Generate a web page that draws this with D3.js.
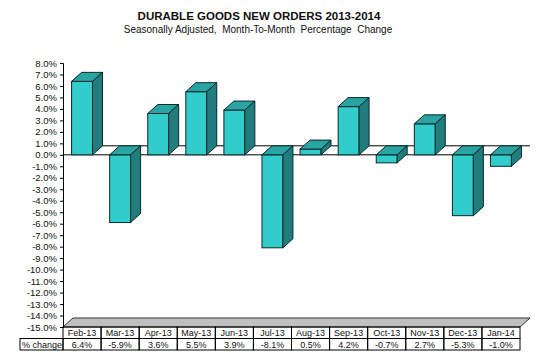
<!DOCTYPE html>
<html>
<head>
<meta charset="utf-8">
<script src="https://cdn.jsdelivr.net/npm/d3@7/dist/d3.min.js"></script>
<style>
  body { margin: 0; background: #fff; }
  text { font-family: Arial, "Liberation Sans", sans-serif; fill: #111; }
</style>
</head>
<body>
<div id="chart"></div>
<script>
// data
var months = ['Feb-13', 'Mar-13', 'Apr-13', 'May-13', 'Jun-13', 'Jul-13',
              'Aug-13', 'Sep-13', 'Oct-13', 'Nov-13', 'Dec-13', 'Jan-14'];
var changes = [6.4, -5.9, 3.6, 5.5, 3.9, -8.1, 0.5, 4.2, -0.7, 2.7, -5.3, -1.0];
var yTicks = d3.range(-15, 9, 1);

var width = 546, height = 363;
var plotLeft = 63, plotRight = 520, plotTop = 63, plotBottom = 327;
var dx = 10, dy = -9;   // 3d depth offset

var svg = d3.select('#chart').append('svg')
    .attr('width', width)
    .attr('height', height);

var x = d3.scaleBand()
    .domain(months)
    .range([plotLeft, plotRight])
    .paddingInner(0.45)
    .paddingOuter(0.225);

var col = d3.scaleBand()
    .domain(months)
    .range([plotLeft, plotRight]);

var y = d3.scaleLinear()
    .domain([-15, 8])
    .range([plotBottom, plotTop]);

// titles
svg.append('text')
    .attr('x', 259).attr('y', 20)
    .attr('text-anchor', 'middle')
    .style('font-weight', 'bold')
    .style('font-size', '11.5px')
    .text('DURABLE GOODS NEW ORDERS 2013-2014');

svg.append('text')
    .attr('x', 258).attr('y', 33)
    .attr('text-anchor', 'middle')
    .style('font-size', '10px')
    .style('white-space', 'pre')
    .text('Seasonally Adjusted,  Month-To-Month  Percentage  Change');

// floor
var fl = y(-15);
svg.append('polygon')
    .attr('points', [[plotLeft, fl], [plotRight, fl], [plotRight + dx, fl + dy], [plotLeft + dx, fl + dy]].join(' '))
    .attr('fill', '#c0c0c0')
    .attr('stroke', '#333')
    .attr('stroke-width', 1);

// zero plane
var y0 = y(0);
svg.append('polygon')
    .attr('points', [[plotLeft, y0], [plotRight, y0], [plotRight + dx, y0 + dy], [plotLeft + dx, y0 + dy]].join(' '))
    .attr('fill', '#fff');
svg.append('line')
    .attr('x1', plotLeft).attr('x2', plotRight)
    .attr('y1', y0).attr('y2', y0)
    .attr('stroke', '#000');
svg.append('line')
    .attr('x1', plotLeft + dx).attr('x2', plotRight + dx)
    .attr('y1', y0 + dy).attr('y2', y0 + dy)
    .attr('stroke', '#000');

// bars
var bars = svg.selectAll('.bar')
    .data(months.map(function(m, i) { return {m: m, v: changes[i]}; }))
    .enter()
    .append('g')
    .attr('class', 'bar');

function barTop(d) { return Math.min(y(0), y(d.v)); }
function barBot(d) { return Math.max(y(0), y(d.v)); }

bars.append('rect')
    .attr('x', function(d) { return x(d.m); })
    .attr('y', barTop)
    .attr('width', x.bandwidth())
    .attr('height', function(d) { return barBot(d) - barTop(d); })
    .attr('fill', '#33cccc')
    .attr('stroke', '#0a2a2a')
    .attr('stroke-width', 1);

bars.append('polygon')
    .attr('points', function(d) {
        var x0 = x(d.m), w = x.bandwidth(), t = barTop(d);
        return [[x0, t], [x0 + dx, t + dy], [x0 + w + dx, t + dy], [x0 + w, t]].join(' ');
    })
    .attr('fill', '#2aa3a3')
    .attr('stroke', '#0a2a2a')
    .attr('stroke-width', 1);

bars.append('polygon')
    .attr('points', function(d) {
        var x1 = x(d.m) + x.bandwidth(), t = barTop(d), b = barBot(d);
        return [[x1, t], [x1 + dx, t + dy], [x1 + dx, b + dy], [x1, b]].join(' ');
    })
    .attr('fill', '#217d7d')
    .attr('stroke', '#0a2a2a')
    .attr('stroke-width', 1);

// y axis
var yAxis = d3.axisLeft(y)
    .tickValues(yTicks)
    .tickSize(3)
    .tickPadding(3)
    .tickFormat(function(d) { return d.toFixed(1) + '%'; });

var ya = svg.append('g')
    .attr('transform', 'translate(' + plotLeft + ',0)')
    .call(yAxis);
ya.select('.domain').attr('stroke', '#000');
ya.selectAll('text')
    .style('font-size', '9.5px')
    .style('font-family', 'Arial, "Liberation Sans", sans-serif')
    .attr('fill', '#111');

// data table
var r1 = plotBottom, r2 = plotBottom + 11.5, r3 = plotBottom + 23;
var table = svg.append('g');

table.selectAll('.hcell')
    .data(months)
    .enter()
    .append('rect')
    .attr('x', function(d) { return col(d); })
    .attr('y', r1)
    .attr('width', col.bandwidth())
    .attr('height', r2 - r1)
    .attr('fill', 'none')
    .attr('stroke', '#000');

table.selectAll('.vcell')
    .data(months)
    .enter()
    .append('rect')
    .attr('x', function(d) { return col(d); })
    .attr('y', r2)
    .attr('width', col.bandwidth())
    .attr('height', r3 - r2)
    .attr('fill', 'none')
    .attr('stroke', '#000');

table.append('rect')
    .attr('x', 20).attr('y', r2)
    .attr('width', plotLeft - 20).attr('height', r3 - r2)
    .attr('fill', 'none')
    .attr('stroke', '#000');

table.selectAll('.hlabel')
    .data(months)
    .enter()
    .append('text')
    .attr('x', function(d) { return col(d) + col.bandwidth() / 2; })
    .attr('y', r2 - 2.5)
    .attr('text-anchor', 'middle')
    .style('font-size', '9px')
    .text(function(d) { return d; });

table.selectAll('.vlabel')
    .data(changes)
    .enter()
    .append('text')
    .attr('x', function(d, i) { return col(months[i]) + col.bandwidth() / 2; })
    .attr('y', r3 - 2.5)
    .attr('text-anchor', 'middle')
    .style('font-size', '9px')
    .text(function(d) { return d.toFixed(1) + '%'; });

table.append('text')
    .attr('x', 22).attr('y', r3 - 2.5)
    .style('font-size', '9px')
    .text('% change');
</script>
</body>
</html>
